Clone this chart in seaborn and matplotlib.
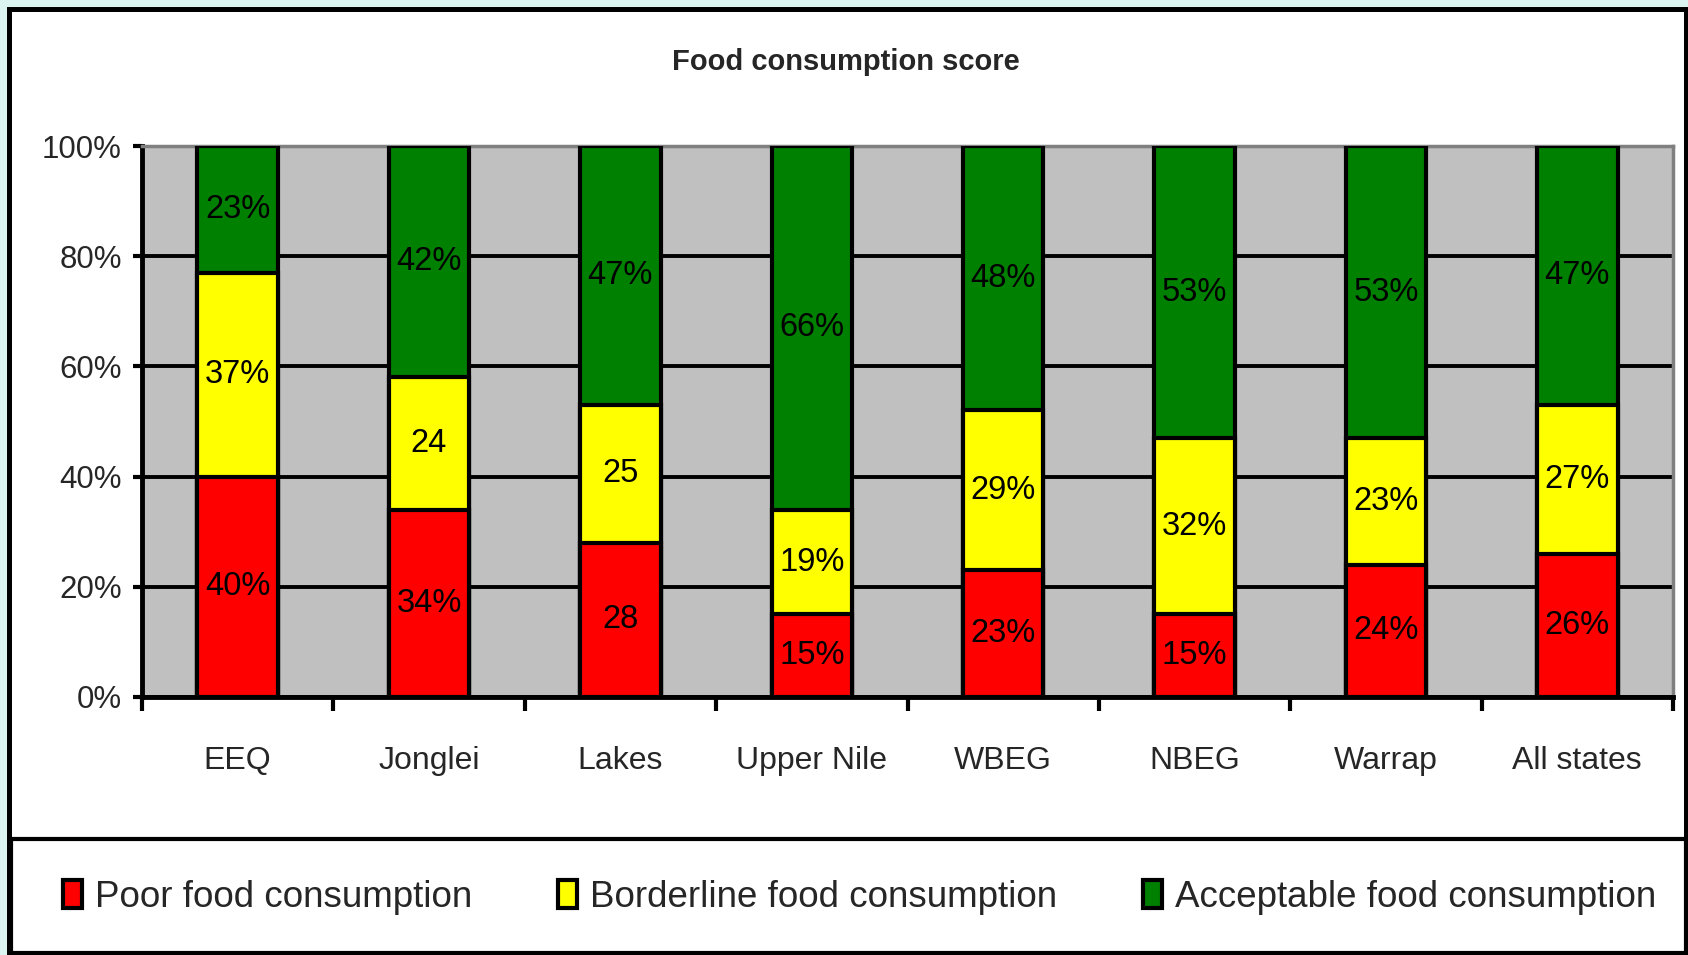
import matplotlib
matplotlib.use("Agg")
import matplotlib.pyplot as plt
import seaborn as sns
import pandas as pd
import numpy as np
from matplotlib.patches import Rectangle, Patch

# datos del gráfico
states = ["EEQ", "Jonglei", "Lakes", "Upper Nile", "WBEG", "NBEG", "Warrap", "All states"]
poor = [40, 34, 28, 15, 23, 15, 24, 26]
borderline = [37, 24, 25, 19, 29, 32, 23, 27]
acceptable = [23, 42, 47, 66, 48, 53, 53, 47]
poor_labels = ["40%", "34%", "28", "15%", "23%", "15%", "24%", "26%"]
borderline_labels = ["37%", "24", "25", "19%", "29%", "32%", "23%", "27%"]
acceptable_labels = ["23%", "42%", "47%", "66%", "48%", "53%", "53%", "47%"]
series = ["Poor food consumption", "Borderline food consumption", "Acceptable food consumption"]
colors = ["#FF0000", "#FFFF00", "#008000"]
yticks = [0, 20, 40, 60, 80, 100]
ytick_labels = ["0%", "20%", "40%", "60%", "80%", "100%"]

sns.set_theme(style="white")
plt.rcParams["font.family"] = ["Liberation Sans", "DejaVu Sans"]

W, H = 1688, 955


def fx(px):
    return px / W


def fy(py):
    return 1 - py / H


df = pd.DataFrame({"state": states, "poor": poor, "borderline": borderline, "acceptable": acceptable})
df["top_border"] = df["poor"] + df["borderline"]
df["top_accept"] = df["top_border"] + df["acceptable"]

fig = plt.figure(figsize=(W / 100, H / 100), dpi=100, facecolor="#DCF4F0")

# marco exterior y caja de leyenda
fig.patches.append(Rectangle((fx(9), fy(953)), fx(1686) - fx(9), fy(9) - fy(953),
                             transform=fig.transFigure, facecolor="white", edgecolor="black",
                             linewidth=3.6, zorder=-2))
fig.patches.append(Rectangle((fx(11), fy(953)), fx(1686) - fx(11), fy(839) - fy(953),
                             transform=fig.transFigure, facecolor="white", edgecolor="black",
                             linewidth=3, zorder=-1))

ax = fig.add_axes([fx(142), fy(697), fx(1673) - fx(142), fy(146) - fy(697)])
ax.set_facecolor("#C0C0C0")

bar_kw = dict(width=0.42, saturation=1, edgecolor="black", linewidth=3, ax=ax, zorder=3)
sns.barplot(data=df, x="state", y="top_accept", color=colors[2], **bar_kw)
sns.barplot(data=df, x="state", y="top_border", color=colors[1], **bar_kw)
sns.barplot(data=df, x="state", y="poor", color=colors[0], **bar_kw)

# etiquetas dentro de cada segmento
for i in range(len(states)):
    segs = [(0, poor[i], poor_labels[i]),
            (df["poor"][i], borderline[i], borderline_labels[i]),
            (df["top_border"][i], acceptable[i], acceptable_labels[i])]
    for bottom, h, lab in segs:
        ax.text(i, bottom + h / 2, lab, ha="center", va="center", fontsize=23.5, color="black", zorder=5)

ax.set_ylim(0, 100)
ax.set_xlim(-0.5, len(states) - 0.5)
ax.set_yticks(yticks)
ax.set_yticklabels(ytick_labels, fontsize=22.5)
ax.set_xticks(range(len(states)))
ax.set_xticklabels(states, fontsize=23)
ax.set_xticks(np.arange(-0.5, len(states), 1), minor=True)
ax.tick_params(axis="x", which="major", length=0, pad=35)
ax.tick_params(axis="x", which="minor", length=10, width=3, color="black", direction="out", bottom=True)
ax.tick_params(axis="y", length=6.5, width=3, color="black", direction="out", left=True, pad=8)
ax.set_xlabel("")
ax.set_ylabel("")

ax.yaxis.grid(True, color="black", linewidth=2.8)
ax.set_axisbelow(True)
for side in ["left", "bottom"]:
    ax.spines[side].set_color("black")
    ax.spines[side].set_linewidth(3.5)
for side in ["top", "right"]:
    ax.spines[side].set_color("#808080")
    ax.spines[side].set_linewidth(2.5)

fig.text(fx(846), fy(62), "Food consumption score", ha="center", va="center",
         fontsize=21, fontweight="bold")

handles = [Patch(facecolor=c, edgecolor="black", linewidth=3) for c in colors]
fig.legend(handles, series, loc="center left", bbox_to_anchor=(fx(45), fy(897)),
           ncol=3, frameon=False, fontsize=26.5, borderpad=0, handlelength=0.5,
           handleheight=0.8, handletextpad=0.35, columnspacing=2.35)

fig.savefig("out.png", dpi=100, facecolor=fig.get_facecolor())
